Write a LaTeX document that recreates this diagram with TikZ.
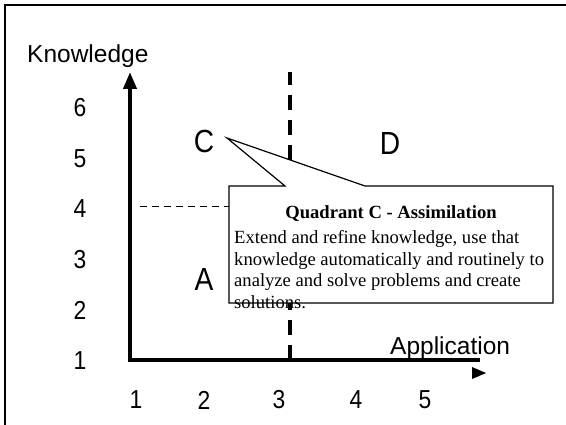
\documentclass[tikz,border=0pt]{standalone}
\usepackage{fontspec}
\setmainfont{Liberation Serif}
\newfontfamily\sansf{Liberation Sans}
\newfontfamily\sansn[FakeStretch=0.88]{Liberation Sans}
\usetikzlibrary{arrows.meta}
\begin{document}
\begin{tikzpicture}[x=1pt,y=-1pt,
  axis/.style={line width=4pt, line join=miter},
  qdash/.style={line width=3.5pt, dash pattern=on 15pt off 10pt},
  thindash/.style={line width=1pt, dash pattern=on 7pt off 5pt},
  lbl/.style={font=\sansf\fontsize{24.5}{28}\selectfont, inner sep=0pt},
  num/.style={font=\sansn\fontsize{26}{28}\selectfont, inner sep=0pt},
  quad/.style={font=\sansn\fontsize{32}{34}\selectfont, inner sep=0pt},
  body/.style={font=\fontsize{18.6}{21.5}\selectfont, inner sep=0pt, anchor=base west},
  callout/.style={draw=black, fill=white, line width=1.2pt, line join=miter}]
\useasboundingbox (0,0) rectangle (566,425);
% frame (cut at right and bottom)
\draw[line width=2pt] (5,440) -- (5,5) -- (580,5);
% coordinates
\coordinate (origin) at (130,360);
\coordinate (ytop) at (130,72);
\coordinate (xend) at (480,360);
\coordinate (vtop) at (290,72);
\coordinate (vbot) at (290,360);
\coordinate (hl) at (140,207);
\coordinate (hr) at (229,207);
% quadrant lines
\draw[qdash] (vbot) -- (vtop);
\draw[thindash] (hl) -- (hr);
% axes
\draw[axis, -{Triangle[length=17pt,width=13pt]}] (xend) -- (origin) -- (ytop);
\coordinate (xa1) at (472,367);
\coordinate (xa2) at (486,373);
\coordinate (xa3) at (472,379);
\fill (xa1) -- (xa2) -- (xa3) -- cycle;
% axis labels
\node[lbl, anchor=base west] (klabel) at (27,63) {Knowledge};
\node[lbl, anchor=base west] (alabel) at (390,355) {Application};
\node[num] (y6) at (80,108) {6};
\node[num] (y5) at (80,158.5) {5};
\node[num] (y4) at (80,209) {4};
\node[num] (y3) at (80,259.5) {3};
\node[num] (y2) at (80,310) {2};
\node[num] (y1) at (80,360.5) {1};
\node[num] (x1) at (136,400) {1};
\node[num] (x2) at (204,400) {2};
\node[num] (x3) at (279,400) {3};
\node[num] (x4) at (356,400) {4};
\node[num] (x5) at (425,400) {5};
% quadrant letters
\node[quad] (qc) at (204,141) {C};
\node[quad] (qd) at (390,143) {D};
\node[quad] (qa) at (204,279) {A};
% callout
\coordinate (b1) at (229,186);
\coordinate (p1) at (285,186);
\coordinate (ptip) at (227,138);
\coordinate (p2) at (365,186);
\coordinate (b2) at (553,186);
\coordinate (b3) at (553,303);
\coordinate (b4) at (229,303);
\draw[callout] (b1) -- (p1) -- (ptip) -- (p2) -- (b2) -- (b3) -- (b4) -- cycle;
\node[font=\bfseries\fontsize{18.6}{21.5}\selectfont, inner sep=0pt, anchor=base] (ctitle) at (391,219) {Quadrant C - Assimilation};
\node[body] (l1) at (234,244) {Extend and refine knowledge, use that};
\node[body] (l2) at (234,265.5) {knowledge automatically and routinely to};
\node[body] (l3) at (234,287) {analyze and solve problems and create};
\node[body] (l4) at (234,308.5) {solutions.};
\end{tikzpicture}
\end{document}
